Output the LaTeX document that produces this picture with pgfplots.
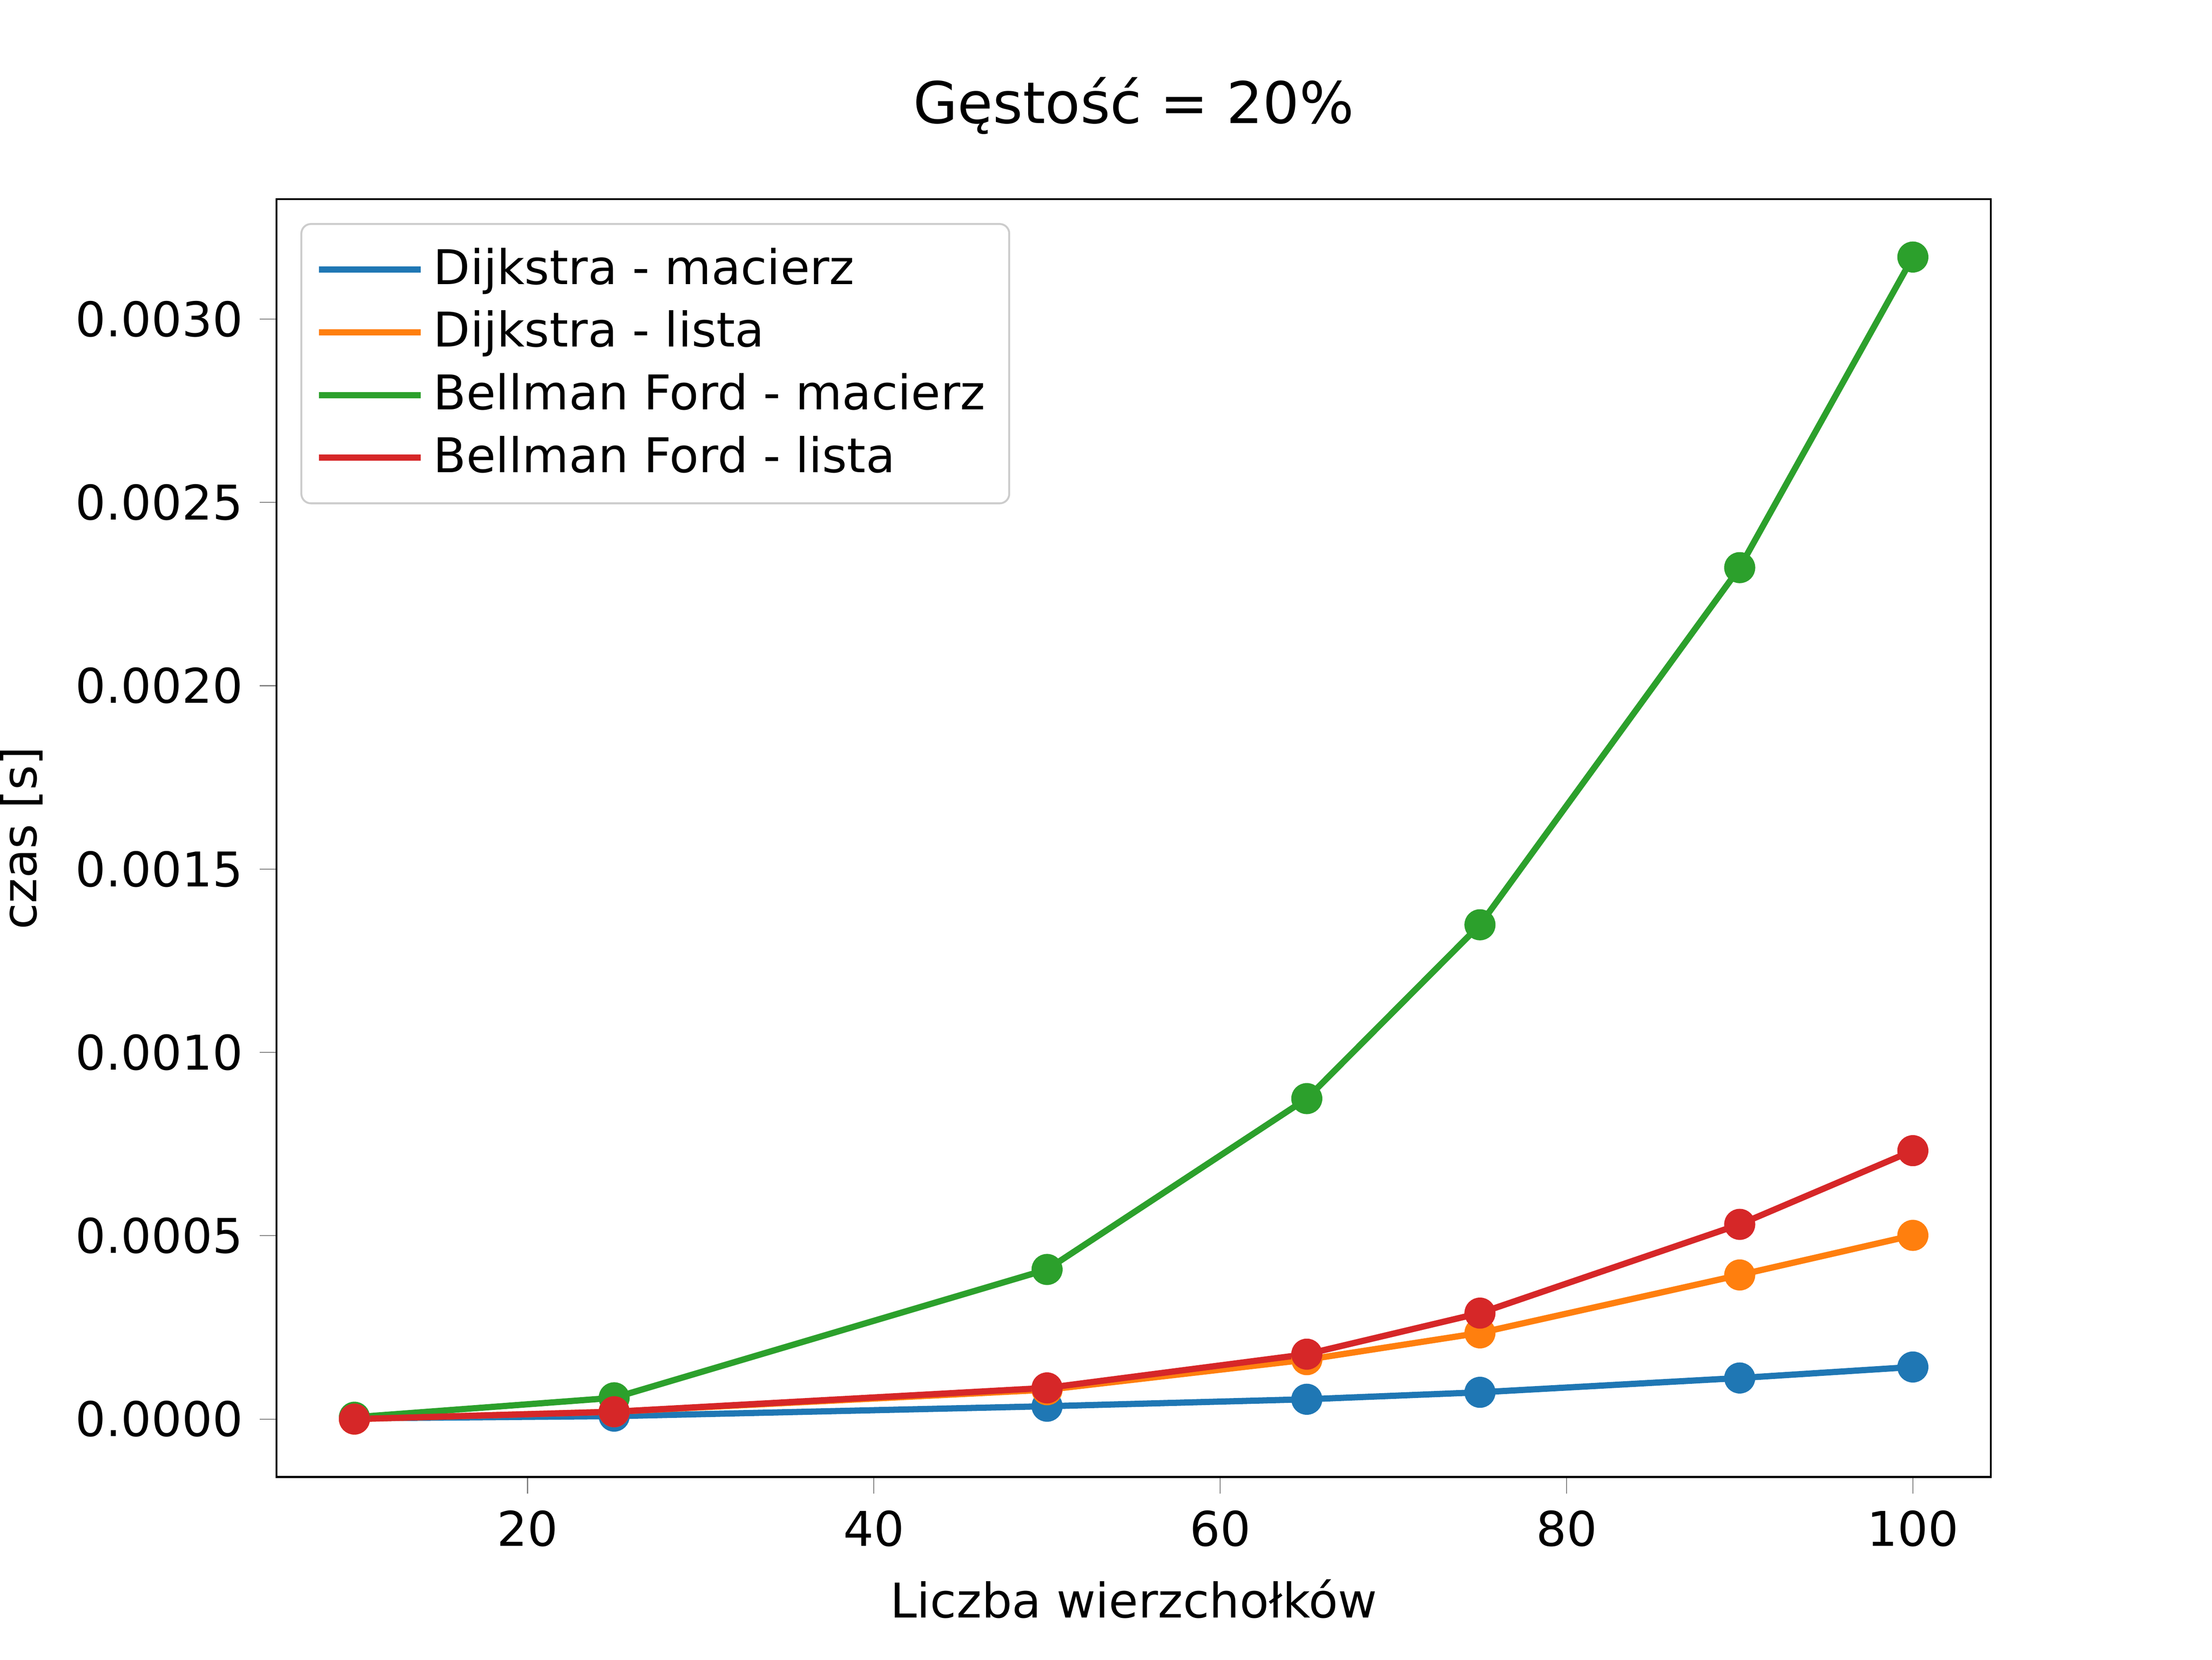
\documentclass[border=0pt]{standalone}
\usepackage{pgfplots}
\pgfplotsset{compat=1.18}
\usepackage{fontspec}
\setmainfont{DejaVu Sans}
\definecolor{tblue}{HTML}{1F77B4}
\definecolor{torange}{HTML}{FF7F0E}
\definecolor{tgreen}{HTML}{2CA02C}
\definecolor{tred}{HTML}{D62728}
\begin{document}
\begin{tikzpicture}
\path[use as bounding box] (0,0) rectangle (6.4in,4.8in);
\begin{axis}[at={(0.8in,0.528in)}, anchor=south west, scale only axis,
 width=4.96in, height=3.696in,
 xmin=5.5, xmax=104.5, ymin=-0.000158, ymax=0.003327,
 xtick={20,40,60,80,100}, ytick={0,0.0005,0.001,0.0015,0.002,0.0025,0.003},
 scaled y ticks=false,
 yticklabel style={/pgf/number format/.cd, fixed, fixed zerofill, precision=4},
 /pgf/number format/assume math mode=true,
 tick align=outside, tick pos=left, major tick length=3.5pt,
 ticklabel style={font=\fontsize{10}{12}\selectfont},
 title={Gęstość = 20\%}, title style={font=\fontsize{12}{14}\selectfont, at={(0.5,1)}, anchor=south, yshift=4pt},
 xlabel={Liczba wierzchołków}, ylabel={czas [s]},
 label style={font=\fontsize{10}{12}\selectfont},
 legend style={at={(0,1)}, anchor=north west, xshift=5pt, yshift=-5pt, font=\fontsize{10}{12}\selectfont, draw=black!20, rounded corners=2pt, inner sep=3pt, row sep=0pt},
 legend cell align=left,
 legend image code/.code={\draw[line width=1.3pt, mark=none] (0,0) -- (0.75cm,0);},
 every axis plot/.append style={line width=1.3pt, mark=*, mark size=2.6pt},
]
\addplot[tblue] coordinates {(10,0.000002)(25,0.000008)(50,0.000035)(65,0.000054)(75,0.000073)(90,0.000112)(100,0.000142)};
\addplot[torange] coordinates {(10,0)(25,0.00002)(50,0.00008)(65,0.000162)(75,0.000235)(90,0.000393)(100,0.000501)};
\addplot[tgreen] coordinates {(10,0.000005)(25,0.000058)(50,0.000408)(65,0.000874)(75,0.001348)(90,0.002322)(100,0.003169)};
\addplot[tred] coordinates {(10,0)(25,0.00002)(50,0.000085)(65,0.000177)(75,0.000289)(90,0.000531)(100,0.000732)};
\legend{Dijkstra - macierz, Dijkstra - lista, Bellman Ford - macierz, Bellman Ford - lista}
\end{axis}
\end{tikzpicture}
\end{document}
